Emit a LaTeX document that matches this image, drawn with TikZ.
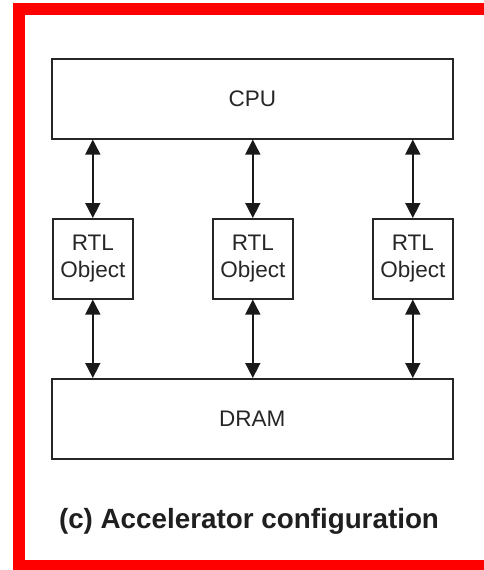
\documentclass[tikz,border=0pt]{standalone}
\usepackage{fontspec}
\setmainfont{Liberation Sans}
\usetikzlibrary{arrows.meta}
\begin{document}
\begin{tikzpicture}[x=1pt,y=-1pt,
  block/.style={draw=black!85, line width=1.6pt, inner sep=0pt, anchor=north west,
    font=\fontsize{22.5}{27}\selectfont, text=black!85, align=center},
  link/.style={line width=1.6pt, draw=black!90,
    {Triangle[length=15pt,width=15pt]}-{Triangle[length=15pt,width=15pt]}}]
  \useasboundingbox (0,0) rectangle (484,570);
  \fill[white] (0,0) rectangle (484,570);
  % red frame (open on the right)
  \fill[red] (13,3) rectangle (484,15);
  \fill[red] (13,3) rectangle (25,570);
  \fill[red] (13,560) rectangle (484,570);
  % blocks
  \node[block, minimum width=401pt, minimum height=80pt] (cpu) at (51,58) {CPU};
  \node[block, minimum width=80pt, minimum height=80pt] (rtl1) at (52,218) {RTL\\Object};
  \node[block, minimum width=80pt, minimum height=80pt] (rtl2) at (212,218) {RTL\\Object};
  \node[block, minimum width=80pt, minimum height=80pt] (rtl3) at (372,218) {RTL\\Object};
  \node[block, minimum width=401pt, minimum height=80pt] (dram) at (51,378) {DRAM};
  % bidirectional links
  \foreach \r in {rtl1,rtl2,rtl3} {
    \draw[link] (\r.north |- cpu.south) -- (\r.north);
    \draw[link] (\r.south) -- (\r.south |- dram.north);
  }
  % caption
  \node[font=\fontsize{27.8}{30}\bfseries\selectfont, text=black!88] (cap) at (249,521) {(c) Accelerator configuration};
\end{tikzpicture}
\end{document}
